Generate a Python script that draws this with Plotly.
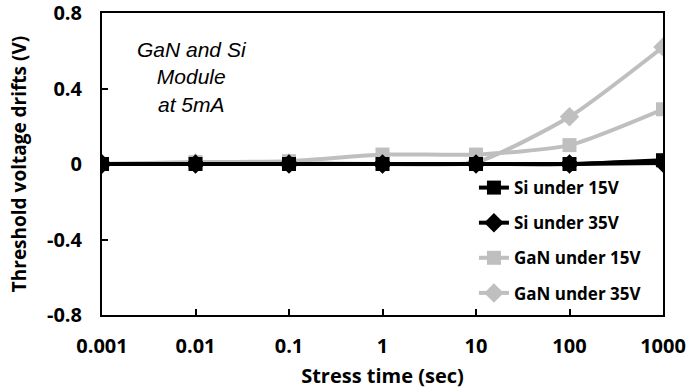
import plotly.graph_objects as go

stress_time = [0.001, 0.01, 0.1, 1, 10, 100, 1000]
tick_labels = ["0.001", "0.01", "0.1", "1", "10", "100", "1000"]
si_15v = [0, 0, 0, 0, 0, 0, 0.02]
si_35v = [0, 0, 0, 0, 0, 0, 0.005]
gan_15v = [0, 0.01, 0.015, 0.05, 0.05, 0.10, 0.29]
gan_35v = [0, 0.005, 0.005, 0, 0.01, 0.25, 0.62]
y_ticks = [-0.8, -0.4, 0, 0.4, 0.8]
y_labels = ["-0.8", "-0.4", "0", "0.4", "0.8"]

BLACK = "#000000"
GRAY = "#BFBFBF"
FONT = "Open Sans"

series = [
    ("GaN under 15V", gan_15v, GRAY, "square", 14, 3),
    ("GaN under 35V", gan_35v, GRAY, "diamond", 15, 4),
    ("Si under 15V", si_15v, BLACK, "square", 14, 1),
    ("Si under 35V", si_35v, BLACK, "diamond", 15, 2),
]

fig = go.Figure()
for name, vals, col, sym, sz, rank in series:
    fig.add_trace(go.Scatter(
        x=stress_time, y=vals, name=name, mode="lines+markers",
        line=dict(color=col, width=4, shape="spline", smoothing=0.6),
        marker=dict(symbol=sym, size=sz, color=col),
        legendgroup=name, legendrank=rank,
    ))

fig.update_layout(
    width=689, height=389,
    margin=dict(l=102, r=26, t=13, b=74),
    paper_bgcolor="white", plot_bgcolor="white",
    font=dict(family=FONT, size=16, color="black"),
    showlegend=True,
    legend=dict(
        x=0.663, y=0.48, xanchor="left", yanchor="top",
        font=dict(family=FONT, size=17, color="black", weight="bold"),
        bgcolor="rgba(0,0,0,0)", tracegroupgap=10,
        itemwidth=30,
    ),
    xaxis=dict(
        type="log", range=[-3, 3], tickvals=stress_time, ticktext=tick_labels,
        ticks="inside", ticklen=6, tickwidth=2, tickcolor="black",
        showline=True, linecolor="black", linewidth=2, mirror=True,
        showgrid=False, zeroline=False, automargin=False,
        ticklabelstandoff=12, ticklabeloverflow="allow",
        tickfont=dict(family=FONT, size=20, weight="bold"),
        title=dict(text="Stress time (sec)", font=dict(family=FONT, size=20, weight="bold")),
    ),
    yaxis=dict(
        range=[-0.8, 0.8], tickvals=y_ticks, ticktext=y_labels,
        ticks="inside", ticklen=6, tickwidth=2, tickcolor="black",
        showline=True, linecolor="black", linewidth=2, mirror=True,
        showgrid=False, zeroline=False, automargin=False,
        ticklabelstandoff=14, ticklabeloverflow="allow",
        tickfont=dict(family=FONT, size=20, weight="bold"),
        title=dict(text="Threshold voltage drifts (V)", font=dict(family=FONT, size=19, weight="bold")),
    ),
    annotations=[dict(
        x=0.16, y=0.925, xref="paper", yref="paper", xanchor="center", yanchor="top",
        text="GaN and Si<br>Module<br>at 5mA", showarrow=False, align="center",
        font=dict(family="Liberation Sans", size=21, style="italic", color="black"),
    )],
)

fig.write_html("out.html")
